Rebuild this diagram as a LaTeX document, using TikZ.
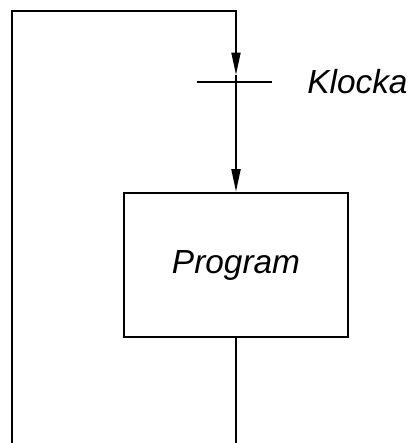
\documentclass[tikz,border=0pt]{standalone}
\usepackage{fontspec}
\newfontfamily\ritfont{Liberation Sans}
\usepackage{tikz}
\usetikzlibrary{arrows.meta,positioning}

\tikzset{
 flow/.style={line width=1.1pt},
 pil/.style={flow,-{Triangle[length=4.5mm,width=1.8mm]}},
 block/.style={draw,line width=1.5pt,minimum width=4.48cm,minimum height=2.88cm,inner sep=0pt},
 etikett/.style={font=\ritfont\itshape\fontsize{19}{22}\selectfont,inner sep=0pt}
}

\begin{document}
\begin{tikzpicture}
 \useasboundingbox (0,0) rectangle (8.3,-8.86);
 % block
 \node[block,etikett] (prog) at (4.72,-5.30) {Program};
 % feedback loop
 \coordinate (bl) at (0.24,-8.86);
 \coordinate (tl) at (0.24,-0.22);
 \coordinate (tr) at (4.72,-0.22);
 \coordinate (a1) at (4.72,-1.50);
 \coordinate (out) at (4.72,-8.86);
 % clock tick
 \coordinate (kl) at (4.72,-1.64);
 \coordinate (kw) at (3.94,-1.64);
 \coordinate (ke) at (5.44,-1.64);
 \node[etikett,right=0.7cm of ke] (klocka) {Klocka};
  \draw[pil] (bl) -- (tl) -- (tr) -- (a1);
  \draw[pil] (a1) -- (prog.north);
  \draw[flow] (kw) -- (ke);
  \draw[flow] (prog.south) -- (out);
\end{tikzpicture}
\end{document}
